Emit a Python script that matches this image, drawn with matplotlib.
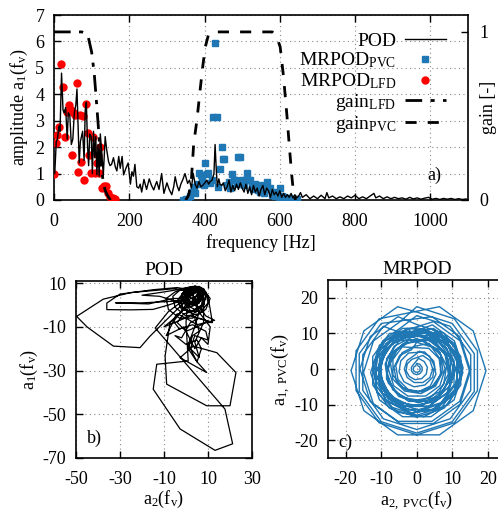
import numpy as np
import matplotlib
matplotlib.use("Agg")
import matplotlib.pyplot as plt

plt.rcParams['font.family'] = ['Liberation Serif', 'DejaVu Serif']
plt.rcParams['mathtext.default'] = 'regular'
plt.rcParams['font.size'] = 13
plt.rcParams['axes.unicode_minus'] = False

BLUE = '#1f77b4'
RED = '#ff0000'

# ---------------- (a) spectrum data ----------------
pod_freq = [2, 6, 9, 13, 16, 20, 24, 27, 31, 35, 38, 42, 46, 50, 54, 58, 61, 64, 67, 70,
            73, 76, 80, 83, 86, 89, 92, 95, 99, 102, 105, 108, 111, 114, 117, 120, 123, 127,
            131, 136, 140, 145, 149, 153, 158, 163, 167, 172, 176, 181, 185, 191, 197, 203,
            207, 211, 215, 220, 225, 229, 233, 239, 246, 253, 259, 265, 269, 273, 279, 286,
            292, 297, 300, 306, 313, 318, 322, 327, 332, 337, 342, 348, 355, 360, 365, 370,
            375, 380, 385, 390, 395, 401, 406, 411, 415, 420, 425, 428, 431, 434, 438, 441,
            446, 450, 455, 460, 465, 470, 475, 480, 485, 490, 495, 500, 505, 510, 515, 520,
            525, 530, 535, 540, 545, 550, 555, 560, 565, 570, 575, 580, 585, 590, 595, 600,
            605, 610, 615, 620, 625, 630, 635, 640, 645, 650, 655, 660, 670, 680, 690, 700,
            710, 720, 725, 730, 740, 750, 760, 770, 780, 790, 800, 810, 820, 830, 840, 850,
            855, 865, 875, 885, 895, 905, 915, 925, 935, 945, 955, 965, 975, 985, 995, 1005,
            1015, 1025, 1035, 1045, 1055, 1065, 1075, 1085, 1095]
pod_amp = [1.0, 2.2, 2.3, 2.8, 2.6, 4.8, 3.4, 3.3, 3.5, 2.3, 3.3, 3.2, 2.1, 2.3, 3.3, 3.6, 4.2, 2.8, 1.4, 2.2,
           2.4, 2.6, 1.5, 3.4, 3.7, 2.1, 1.3, 2.5, 2.4, 1.0, 2.6, 1.6, 2.4, 0.95, 2.1, 0.9, 2.5, 1.8,
           0.93, 2.4, 1.9, 1.45, 1.3, 1.35, 1.6, 1.25, 1.1, 1.65, 1.2, 1.65, 0.95, 1.2, 1.4, 0.6,
           1.07, 0.9, 1.35, 0.5, 0.45, 0.6, 0.3, 0.78, 0.4, 0.8, 0.55, 0.38, 0.55, 0.7, 0.4, 1.0,
           0.25, 0.5, 0.65, 0.4, 0.2, 0.5, 0.88, 0.55, 0.35, 0.6, 0.76, 1.0, 0.63, 0.75, 0.45, 1.0,
           0.6, 0.45, 0.7, 0.5, 0.55, 0.65, 0.75, 0.6, 0.7, 0.75, 1.0, 2.1, 1.2, 0.5, 0.8, 0.6,
           0.55, 0.65, 0.35, 0.5, 0.75, 0.3, 0.55, 0.35, 0.6, 0.4, 0.65, 0.45, 0.3, 0.6, 0.25, 0.5,
           0.2, 0.55, 0.3, 0.45, 0.15, 0.4, 0.55, 0.2, 0.45, 0.35, 0.1, 0.4, 0.2, 0.3, 0.15, 0.35,
           0.1, 0.25, 0.1, 0.2, 0.1, 0.25, 0.08, 0.2, 0.08, 0.15, 0.28, 0.1, 0.2, 0.05, 0.15, 0.05,
           0.18, 0.05, 0.28, 0.08, 0.15, 0.05, 0.12, 0.05, 0.15, 0.08, 0.18, 0.05, 0.12, 0.05, 0.15, 0.25,
           0.08, 0.15, 0.05, 0.12, 0.05, 0.1, 0.05, 0.08, 0.03, 0.1, 0.04, 0.08, 0.03, 0.07, 0.1, 0.03,
           0.06, 0.02, 0.06, 0.03, 0.06, 0.02, 0.05, 0.02, 0.04]

pvc_freq = [344, 350, 357, 362, 366, 371, 375, 380, 386, 390, 393, 398, 402, 406, 410, 415, 419,
            422, 428, 433, 437, 441, 446, 449, 453, 459, 464, 468, 473, 477, 481, 486, 490, 495,
            499, 504, 508, 512, 517, 521, 526, 530, 535, 539, 543, 548, 553, 557, 562, 566, 570,
            574, 579, 584, 588, 592, 597, 601, 606, 610, 614, 618, 622, 627, 632, 636, 641, 645]
pvc_amp = [0.0, 0.02, 0.05, 0.15, 0.31, 0.5, 0.25, 0.62, 1.03, 0.95, 0.76, 0.55, 1.39, 0.98, 1.01, 0.63, 0.76,
           3.13, 5.93, 3.15, 0.5, 1.16, 1.99, 1.54, 1.54, 0.57, 0.7, 0.44, 0.98, 0.76, 0.76, 0.6, 1.61, 1.64,
           0.76, 0.55, 0.76, 1.01, 0.76, 0.74, 0.5, 0.4, 0.6, 0.45, 0.38, 0.3, 0.55, 0.25, 0.45, 0.7, 0.4,
           0.45, 0.2, 0.3, 0.15, 0.25, 0.1, 0.45, 0.15, 0.1, 0.05, 0.08, 0.07, 0.03, 0.05, 0.02, 0.03, 0.02]

lfd_freq = [1, 5, 9, 14, 19, 24, 30, 35, 40, 44, 48, 52, 56, 61, 65, 69, 72, 76, 80, 85, 90, 94,
            98, 104, 108, 113, 117, 120, 122, 128, 134, 138, 144, 150, 156, 161]
lfd_amp = [0.97, 2.14, 2.46, 2.77, 5.15, 4.26, 2.40, 3.34, 3.59, 3.40, 1.70, 3.30, 3.22, 4.41, 1.05, 3.22,
           1.45, 3.19, 0.76, 3.63, 2.52, 1.70, 1.01, 2.40, 1.01, 1.39, 1.70, 1.01, 2.02, 0.44, 0.52, 0.54,
           0.25, 0.13, 0.06, 0.03]

gain_lfd_freq = [0, 74, 85, 91, 100, 107, 113, 118, 122, 127, 131, 137, 144, 150]
gain_lfd = [1.0, 1.0, 0.99, 0.97, 0.88, 0.75, 0.58, 0.43, 0.30, 0.18, 0.10, 0.05, 0.02, 0.0]

gain_pvc_freq = [350, 358, 365, 371, 380, 388, 395, 402, 410, 420, 580, 592, 601, 610, 619, 626, 632, 637, 642]
gain_pvc = [0.0, 0.03, 0.12, 0.33, 0.48, 0.65, 0.79, 0.91, 0.98, 1.0, 1.0, 0.97, 0.91, 0.73, 0.5, 0.3, 0.14, 0.03, 0.0]

# ---------------- (b) POD phase portrait ----------------
pod_a2 = [3, 6, 7, 4, 0, -2, 0, 4, 8, 9, 7, 3, -1, -3, -1, 3, 7, 8, 6, 2, 0, 1, 5, 7, 5, 1, -2, -2, 2, 6,
          9, 13, 5, 0, -4, -6, -3, 3, 9, 10, 4, 2, 6, 4, 8, 8, 5, 1, -2, -1, 3, 6, 5, 2,
          -5, -25, -37.6, -49.7, -45, -33, -20.9, -16.4, -7.3, -2, 2, 5, 7, 5, 1, 0, 3, 7,
          -4, -15, -30, -36, -36, -25, -15, -8, -2, -10, -20, -32, -17, -6,
          0, 4, 7, 6, 2, -1, 1, 5, 8, 7, 3, -1, -4, 0, 5, 9, 12, 6, 2, -2, -5, 0, 5, 7, 5, 1, 3, 6, 4, 1, 4, 6,
          3, -7.3, -9.5, -8.8, 9.4, 20, 22.7, 14, 3.3, -2.7, 9.4, 5, 1, 4, 6, 4,
          2, 5, 7, 4, 0, 1,
          0, 1, -13.3, -14.9, -2.7, 13.2, 21.2, 17.7, -14, -8, 0, 4, 6, 3, 0, 2, 6, 5, 2,
          -1, 3, 8, 7, 2, -2, 1, 6, 8, 4, 0, -1, 3, 7, 5, 1,
          5, 9, 10, 6, 0, -5, -6, -2, 3, 8, 11, 9, 3, -3, -8, -9, -5, 1, 6, 9, 8, 4, -2, -4, -1, 4, 8, 10,
          12, 2, -10, -4, 1, -12, -20, -10, 2, 7, 5, 2, -6, -9, -1, 4, 7, 10, 11, 5, 3, 6, 3, 1, 4, 7, 4]
pod_a1 = [3, 5, 8, 8.5, 7, 4, 0, -2, 0, 4, 7, 8, 6, 2, -2, -4, -2, 2, 6, 7, 5, 1, 0, 3, 6, 6, 3, -1, -3, -1,
          -5, -7, -9, -6, -4, -7, -11, -9, -12, -16, -14, -20, -24, -17, -8, 2, 7, 8, 5, 1, 0, 3, 7, 6,
          7.5, 5.7, 2.7, -5.2, -10, -18.8, -19.5, -14.3, -5.2, 0, 4, 6, 4, 1, 2, 6, 8, 6,
          8, 7, 5, 0.9, -2.1, -2.2, -2, 0, 2, 1.5, 1, 1, 0.5, 3,
          3, 6, 5, 1, -1, 2, 7, 8, 5, 0, -3, -4, -8, -12, -10, -8, -8, -6, -8, -15, -14, -18, -16, -20, -26, -20, -14, -12, -6, -1, 3, 6,
          2, -8.2, -23.4, -36.2, -46.1, -46.1, -30.9, -21.8, -18.8, -24.1, -30.9, -26, -18, -10, -3, 3,
          6, 8, 4, 0, 2, 6,
          -8, -25.6, -27.1, -38.5, -56.7, -66.5, -63.5, -47.6, -10.5, -3, 3, 6, 7, 8, 5, 1, 2, 6, 5,
          2, 0, 3, 7, 8, 4, 0, 1, 5, 8, 7, 3, 1, 4, 7, 5,
          8, 6, 1, -4, -5, -1, 4, 7.5, 8.5, 7, 3, -2, -6, -6, -2, 3, 6, 8, 8.5, 5, 0, -3, -2, 2, 6, 8.8, 7.5, 4,
          -8, -5, -10, -5, 0, 4, 4.5, 6, 8, 8, 4, 3, -8, -14, -10, -20, -15, -18, -10, -2, 5, 8.5, 7, 4, 2, 5, 8]

# ---------------- (c) MRPOD phase portrait ----------------
pvc_a2 = [0.3, 0.8, 1, 0.8, 0.3, -0.3, -0.8, -1, -0.8, -0.3,
          0, 0.9, 1.5, 1.5, 0.9, 0, -0.9, -1.5, -1.5, -0.9,
          0.5, 2.1, 3, 2.7, 1.4, -0.5, -2.1, -3, -2.7, -1.4,
          1.7, 3.7, 4.5, 3.7, 1.7, -0.7, -2.7, -3.5, -2.7, -0.7,
          0.8, 3.6, 5, 4.5, 2.3, -0.8, -3.6, -5, -4.5, -2.3,
          2.2, 4.8, 5.4, 3.8, 0.5, -3.2, -5.8, -6.4, -4.8, -1.5,
          0, 4.1, 6.7, 6.7, 4.1, 0, -4.1, -6.7, -6.7, -4.1,
          3.4, 6.3, 6.9, 5.1, 1.5, -2.4, -5.3, -5.9, -4.1, -0.5,
          3.4, 6.7, 7.4, 5.3, 1.2, -3.4, -6.7, -7.4, -5.3, -1.2,
          1.4, 6, 8.4, 7.6, 3.8, -1.4, -6, -8.4, -7.6, -3.8,
          3.3, 7.8, 9.5, 7.8, 3.3, -2.3, -6.8, -8.5, -6.8, -2.3,
          4, 8, 8.9, 6.4, 1.4, -4, -8, -8.9, -6.4, -1.4,
          0, 6.5, 10.5, 10.5, 6.5, 0, -6.5, -10.5, -10.5, -6.5,
          4, 8.4, 9.4, 6.6, 1.1, -5, -9.4, -10.4, -7.6, -2.1,
          4.7, 10.7, 13, 10.7, 4.7, -2.7, -8.7, -11, -8.7, -2.7,
          -0.5, 5.4, 9, 9, 5.4, -0.5, -6.4, -10, -10, -6.4,
          2.3, 8.7, 11.9, 10.7, 5.7, -1.3, -7.7, -10.9, -9.7, -4.7,
          4, 10.5, 13, 10.5, 4, -4, -10.5, -13, -10.5, -4,
          0.5, 7.3, 11.4, 11.4, 7.3, 0.5, -6.3, -10.4, -10.4, -6.3,
          1.9, 8.5, 11.9, 10.7, 5.4, -1.9, -8.5, -11.9, -10.7, -5.4,
          4.7, 12.2, 15, 12.2, 4.7, -4.7, -12.2, -15, -12.2, -4.7,
          0, 10.6, 17.1, 17.1, 10.6, 0, -10.6, -17.1, -17.1, -10.6,
          6.4, 15.9, 19.5, 15.9, 6.4, -5.4, -14.9, -18.5, -14.9, -5.4,
          0, 10, 16.2, 16.2, 10, 0, -10, -16.2, -16.2, -10,
          4.3, 12.1, 15, 12.1, 4.3, -5.3, -13.1, -16, -13.1, -5.3,
          0, 7.7, 12.4, 12.4, 7.7, 0, -7.7, -12.4, -12.4, -7.7,
          5.6, 11.1, 12.4, 8.9, 2, -5.6, -11.1, -12.4, -8.9, -2,
          3.4, 8.9, 11, 8.9, 3.4, -3.4, -8.9, -11, -8.9, -3.4,
          1.7, 7.5, 10.4, 9.3, 4.7, -1.7, -7.5, -10.4, -9.3, -4.7,
          0.5, 6.1, 9.5, 9.5, 6.1, 0.5, -5.1, -8.5, -8.5, -5.1,
          0, 7.1, 11.4, 11.4, 7.1, 0, -7.1, -11.4, -11.4, -7.1,
          3.3, 8.5, 10.5, 8.5, 3.3, -3.3, -8.5, -10.5, -8.5, -3.3,
          4.4, 10.6, 13, 10.6, 4.4, -3.4, -9.6, -12, -9.6, -3.4,
          0, 9.4, 15.2, 15.2, 9.4, 0, -9.4, -15.2, -15.2, -9.4,
          2.5, 6.5, 8, 6.5, 2.5, -2.5, -6.5, -8, -6.5, -2.5]
pvc_a1 = [0.9, 0.6, 0, -0.6, -0.9, -0.9, -0.6, 0, 0.6, 0.9,
          1.6, 1.3, 0.5, -0.5, -1.3, -1.6, -1.3, -0.5, 0.5, 1.3,
          3, 2.1, 0.5, -1.4, -2.7, -3, -2.1, -0.5, 1.4, 2.7,
          3.8, 2.4, 0, -2.4, -3.8, -3.8, -2.4, 0, 2.4, 3.8,
          5, 3.6, 0.8, -2.3, -4.5, -5, -3.6, -0.8, 2.3, 4.5,
          4.8, 2.2, -1.5, -4.8, -6.4, -5.8, -3.2, 0.5, 3.8, 5.4,
          7.5, 6.2, 2.7, -1.7, -5.2, -6.5, -5.2, -1.7, 2.7, 6.2,
          5.8, 2.9, -1, -4.6, -6.4, -5.8, -2.9, 1, 4.6, 6.4,
          7.2, 3.9, -0.7, -4.8, -6.9, -6.2, -2.9, 1.7, 5.8, 7.9,
          7.9, 5.5, 0.9, -4.3, -8.1, -8.9, -6.5, -1.9, 3.3, 7.1,
          8.1, 4.8, -0.5, -5.8, -9.1, -9.1, -5.8, -0.5, 4.8, 8.1,
          8, 4, -1.4, -6.4, -8.9, -8, -4, 1.4, 6.4, 8.9,
          10, 7.9, 2.4, -4.4, -9.9, -12, -9.9, -4.4, 2.4, 7.9,
          8.4, 4, -2.1, -7.6, -10.4, -9.4, -5, 1.1, 6.6, 9.4,
          11.4, 7.1, 0, -7.1, -11.4, -11.4, -7.1, 0, 7.1, 11.4,
          9.5, 7.6, 2.6, -3.6, -8.6, -10.5, -8.6, -3.6, 2.6, 7.6,
          10.4, 7.2, 0.8, -6.2, -11.2, -12.4, -9.2, -2.8, 4.2, 9.2,
          11.4, 6.7, -1, -8.7, -13.4, -13.4, -8.7, -1, 6.7, 11.4,
          11.5, 9.3, 3.6, -3.6, -9.3, -11.5, -9.3, -3.6, 3.6, 9.3,
          11.4, 8, 1.4, -5.9, -11.2, -12.4, -9, -2.4, 4.9, 10.2,
          13.3, 7.9, -1, -9.9, -15.3, -15.3, -9.9, -1, 7.9, 13.3,
          17.5, 14.1, 5.1, -6.1, -15.1, -18.5, -15.1, -6.1, 5.1, 14.1,
          17.5, 10.7, -0.5, -11.7, -18.5, -18.5, -11.7, -0.5, 10.7, 17.5,
          16, 12.8, 4.3, -6.3, -14.8, -18, -14.8, -6.3, 4.3, 12.8,
          14.7, 9.1, 0, -9.1, -14.7, -14.7, -9.1, 0, 9.1, 14.7,
          12.5, 10, 3.5, -4.5, -11, -13.5, -11, -4.5, 3.5, 10,
          10.1, 4.6, -3, -9.9, -13.4, -12.1, -6.6, 1, 7.9, 11.4,
          10.5, 6.5, 0, -6.5, -10.5, -10.5, -6.5, 0, 6.5, 10.5,
          10.4, 7.5, 1.7, -4.7, -9.3, -10.4, -7.5, -1.7, 4.7, 9.3,
          9.5, 7.7, 2.9, -2.9, -7.7, -9.5, -7.7, -2.9, 2.9, 7.7,
          11, 8.7, 2.7, -4.7, -10.7, -13, -10.7, -4.7, 2.7, 8.7,
          9.5, 5.7, -0.5, -6.7, -10.5, -10.5, -6.7, -0.5, 5.7, 9.5,
          12.4, 7.9, 0.5, -6.9, -11.4, -11.4, -6.9, 0.5, 7.9, 12.4,
          15, 12, 4, -6, -14, -17, -14, -6, 4, 12,
          7.6, 4.7, 0, -4.7, -7.6, -7.6, -4.7, 0, 4.7, 7.6]

# ---------------- figure ----------------
fig = plt.figure(figsize=(4.98, 5.12), dpi=100)

def style_axes(ax):
    ax.tick_params(direction='in', length=5, width=1.0, top=True, right=True, labelsize=13)
    ax.tick_params(axis='x', pad=9)
    ax.tick_params(axis='y', pad=7)
    for s in ax.spines.values():
        s.set_linewidth(1.2)
    ax.grid(True, color='#888888', linestyle=(0, (1, 3)), linewidth=0.8)
    ax.set_axisbelow(True)

# (a)
ax = fig.add_axes([54/498, 1-200/512, (468-54)/498, (200-15)/512])
style_axes(ax)
ax.tick_params(right=False)
ax.plot(pod_freq, pod_amp, color='black', lw=1.0, label='POD', zorder=4)
ax.plot(pvc_freq, pvc_amp, ls='none', marker='s', ms=4.5, color=BLUE, mec=BLUE,
        label='MRPOD$_{PVC}$', zorder=3)
ax.plot(lfd_freq, lfd_amp, ls='none', marker='o', ms=5, color=RED, mec=RED,
        label='MRPOD$_{LFD}$', zorder=3)
ax.set_xlim(0, 1100)
ax.set_ylim(0, 7)
ax.set_xticks([0, 200, 400, 600, 800, 1000])
ax.set_yticks(range(0, 8))
ax.set_xlabel('frequency [Hz]', labelpad=3)
ax.set_ylabel('amplitude a$_1$(f$_v$)', labelpad=4)
ax.text(0.918, 0.135, 'a)', transform=ax.transAxes, ha='center', va='center', fontsize=13)

ax2 = ax.twinx()
ax2.set_ylim(0, 7/6.36)
ax2.set_yticks([0, 1])
ax2.tick_params(direction='in', length=5, width=1.0, labelsize=13, pad=8)
l4, = ax2.plot(gain_lfd_freq, gain_lfd, color='black', lw=2.0, ls=(0, (6, 3, 1.5, 3)), label='gain$_{LFD}$')
l5, = ax2.plot(gain_pvc_freq, gain_pvc, color='black', lw=2.0, ls=(0, (4, 4)), label='gain$_{PVC}$')
ax2.set_ylabel('gain [-]')
ax2.yaxis.set_label_coords(1.03, 0.5)
for s in ax2.spines.values():
    s.set_visible(False)

h1, lab1 = ax.get_legend_handles_labels()
leg = ax2.legend(h1 + [l4, l5], lab1 + ['gain$_{LFD}$', 'gain$_{PVC}$'],
                 loc='upper right', bbox_to_anchor=(0.97, 0.96), frameon=False,
                 markerfirst=False, fontsize=14, handlelength=2.1, labelspacing=0.05,
                 borderpad=0, handletextpad=0.45, numpoints=1)

# (b)
bx = fig.add_axes([76/498, 1-458/512, (252-76)/498, (458-281)/512])
style_axes(bx)
bx.plot(pod_a2, pod_a1, color='black', lw=0.9)
bx.set_xlim(-50, 30)
bx.set_ylim(-70, 11)
bx.set_xticks([-50, -30, -10, 10, 30])
bx.set_yticks([-70, -50, -30, -10, 10])
bx.set_title('POD', fontsize=14, pad=4)
bx.set_xlabel('a$_2$(f$_v$)', labelpad=1)
bx.set_ylabel('a$_1$(f$_v$)', labelpad=2)
bx.text(0.06, 0.06, 'b)', transform=bx.transAxes, ha='left', va='bottom', fontsize=13)

# (c)
cx = fig.add_axes([328/498, 1-458/512, 177.5/498, (458-280)/512])
style_axes(cx)
cx.plot(pvc_a2, pvc_a1, color=BLUE, lw=1.0)
cx.set_xlim(-25, 25)
cx.set_ylim(-25, 25)
cx.set_xticks([-20, -10, 0, 10, 20])
cx.set_yticks([-20, -10, 0, 10, 20])
cx.set_title('MRPOD', fontsize=14, pad=4)
cx.set_xlabel('a$_{2,\\,PVC}$(f$_v$)', labelpad=1)
cx.set_ylabel('a$_{1,\\,PVC}$(f$_v$)', labelpad=2)
cx.text(0.06, 0.04, 'c)', transform=cx.transAxes, ha='left', va='bottom', fontsize=13)

fig.savefig('out.png', dpi=100)
